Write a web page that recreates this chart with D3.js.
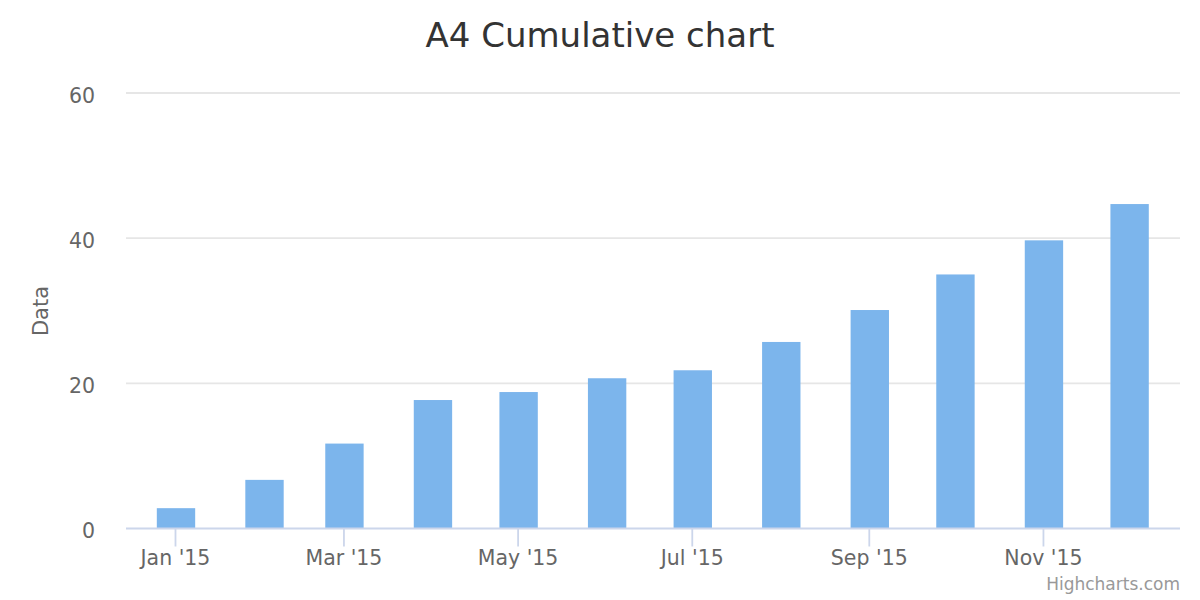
<!DOCTYPE html>
<html>
<head>
<meta charset="utf-8">
<script src="https://cdn.jsdelivr.net/npm/d3@7"></script>
<style>
  html, body { margin: 0; padding: 0; background: #fff; }
  svg { display: block; font-family: "DejaVu Sans", Verdana, sans-serif; }
</style>
</head>
<body>
<svg id="chart" width="1200" height="600"></svg>
<script>
// ---- data ----
const months = ["2015-01-01","2015-02-01","2015-03-01","2015-04-01","2015-05-01","2015-06-01",
                "2015-07-01","2015-08-01","2015-09-01","2015-10-01","2015-11-01","2015-12-01"];
const values = [2.8, 6.7, 11.7, 17.7, 18.8, 20.7, 21.8, 25.7, 30.1, 35.0, 39.7, 44.7];
const yTicks = [0, 20, 40, 60];
const titleText = "A4 Cumulative chart";
const yAxisTitle = "Data";
const creditsText = "Highcharts.com";

// ---- layout ----
const W = 1200, H = 600;
const plot = { left: 126, right: 1180, top: 93, bottom: 528.5 };
const svg = d3.select("#chart");

const parse = d3.utcParse("%Y-%m-%d");
const dates = months.map(parse);
const DAY = 86400000;

const x = d3.scaleUtc()
  .domain([new Date(dates[0].getTime() - 17.16 * DAY), new Date(dates[11].getTime() + 18 * DAY)])
  .range([plot.left, plot.right]);
const y = d3.scaleLinear().domain([0, 60]).range([plot.bottom, plot.top]);

// gridlines
svg.append("g").selectAll("line")
  .data(yTicks.filter(d => d !== 0))
  .join("line")
  .attr("x1", plot.left).attr("x2", plot.right)
  .attr("y1", d => y(d)).attr("y2", d => y(d))
  .attr("stroke", "#e6e6e6").attr("stroke-width", 1.8);

// bars
const barW = x(new Date(dates[1].getTime() + 13.44 * DAY)) - x(dates[1]);
svg.append("g").selectAll("rect")
  .data(values)
  .join("rect")
  .attr("x", (d, i) => x(dates[i]) - barW / 2 + 1)
  .attr("width", barW)
  .attr("y", d => y(d))
  .attr("height", d => y(0) - y(d))
  .attr("fill", "#7cb5ec");

// x axis
const xAxis = d3.axisBottom(x)
  .ticks(d3.utcMonth.every(2))
  .tickFormat(d3.utcFormat("%b '%y"))
  .tickSize(18)
  .tickPadding(4);
const gx = svg.append("g")
  .attr("transform", `translate(0,${plot.bottom})`)
  .call(xAxis);
gx.select(".domain").attr("stroke", "#ccd6eb").attr("stroke-width", 1.8)
  .attr("d", `M${plot.left},0H${plot.right}`);
gx.selectAll(".tick line").attr("stroke", "#ccd6eb").attr("stroke-width", 1.8);
gx.selectAll(".tick text").attr("fill", "#666666").attr("font-size", 20.5)
  .attr("font-family", "DejaVu Sans").attr("y", 22).attr("dy", "0.71em");

// y axis labels
const yAxis = d3.axisLeft(y).tickValues(yTicks).tickSize(0).tickPadding(0).tickFormat(d3.format("d"));
const gy = svg.append("g").attr("transform", `translate(95,0)`).call(yAxis);
gy.select(".domain").remove();
gy.selectAll(".tick text").attr("fill", "#666666").attr("font-size", 20.5)
  .attr("font-family", "DejaVu Sans").attr("dy", "0.45em");

// y axis title
svg.append("text")
  .attr("transform", `translate(48,311) rotate(-90)`)
  .attr("text-anchor", "middle")
  .attr("fill", "#666666")
  .attr("font-size", 21)
  .text(yAxisTitle);

// title
svg.append("text")
  .attr("x", W / 2).attr("y", 47)
  .attr("text-anchor", "middle")
  .attr("fill", "#333333")
  .attr("font-size", 34)
  .text(titleText);

// credits
svg.append("text")
  .attr("x", 1180).attr("y", 590)
  .attr("text-anchor", "end")
  .attr("fill", "#999999")
  .attr("font-size", 17)
  .text(creditsText);
</script>
</body>
</html>
